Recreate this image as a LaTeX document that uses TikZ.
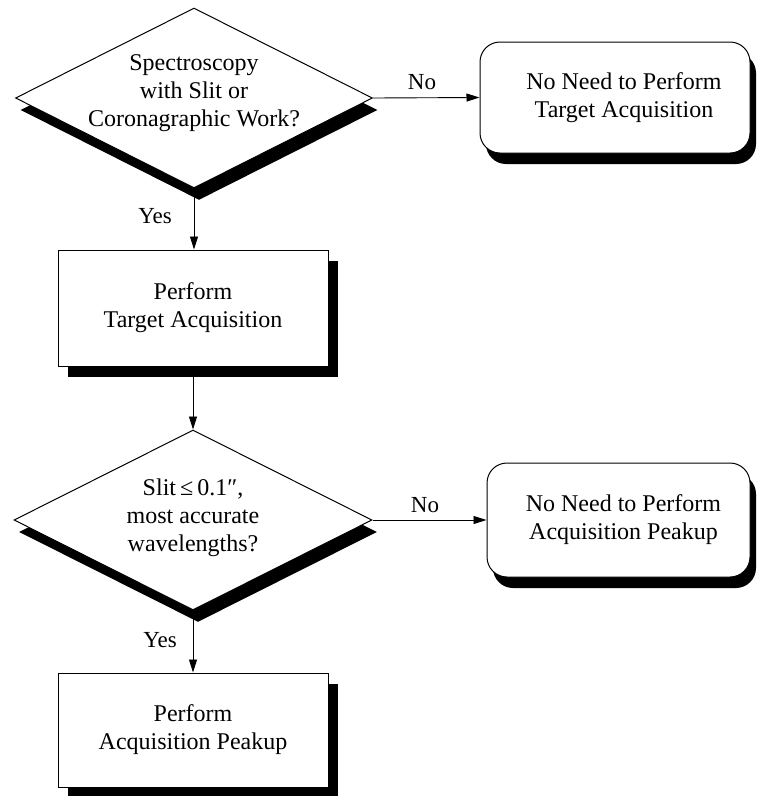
\documentclass[tikz,border=0pt]{standalone}
\usepackage{fontspec}
\setmainfont{Liberation Serif}
\usetikzlibrary{shapes.geometric,shadows,arrows.meta}
\begin{document}
\begin{tikzpicture}[x=1pt,y=-1pt,
  font=\fontsize{24}{28}\selectfont,
  every node/.style={align=center, inner sep=0pt},
  decision/.style={diamond, draw, line width=1pt, fill=white,
    drop shadow={shadow xshift=5pt, shadow yshift=-12pt, opacity=1, fill=black}},
  procbox/.style={rectangle, draw, line width=1pt, fill=white,
    drop shadow={shadow xshift=10pt, shadow yshift=-11pt, opacity=1, fill=black}},
  skipbox/.style={rectangle, rounded corners=20pt, draw, line width=1pt, fill=white,
    drop shadow={shadow xshift=6pt, shadow yshift=-11pt, opacity=1, fill=black}},
  flow/.style={-{Triangle[length=13pt,width=8pt]}, line width=0.9pt},
  tag/.style={font=\fontsize{23}{26}\selectfont}
]
\useasboundingbox (0,0) rectangle (757,796);

% first decision and its outcomes
\node[decision, minimum width=357pt, minimum height=180pt,
      label={[yshift=5pt]center:Spectroscopy\\with Slit or\\Coronagraphic Work?}] (d1) at (194,98) {};
\node[skipbox, minimum width=270pt, minimum height=111pt] (r1) at (615,97.5)
      {\hspace*{18pt}No Need to Perform\\\hspace*{18pt}Target Acquisition};
\node[procbox, minimum width=270pt, minimum height=116pt] (b1) at (193,308)
      {Perform\\Target Acquisition};

% second decision and its outcomes
\node[decision, minimum width=358pt, minimum height=180pt,
      label={[yshift=2pt]center:Slit\,≤\,0.1″,\\most accurate\\wavelengths?}] (d2) at (193,520) {};
\node[skipbox, minimum width=263pt, minimum height=114pt] (r2) at (618.5,520)
      {\hspace*{10pt}No Need to Perform\\\hspace*{10pt}Acquisition Peakup};
\node[procbox, minimum width=270pt, minimum height=114pt] (b2) at (193,730)
      {Perform\\Acquisition Peakup};

% connectors
\draw[flow] (d1.east) -- (r1.west);
\draw[flow] (d1.south) -- (d1.south |- b1.north);
\draw[flow] (d2.north |- b1.south) -- (d2.north);
\draw[flow] (d2.east) -- (r2.west);
\draw[flow] (d2.south) -- (d2.south |- b2.north);

% branch labels
\node[tag] (no1) at (422,82) {No};
\node[tag] (yes1) at (155,216) {Yes};
\node[tag] (no2) at (425,505) {No};
\node[tag] (yes2) at (160,640) {Yes};
\end{tikzpicture}
\end{document}
